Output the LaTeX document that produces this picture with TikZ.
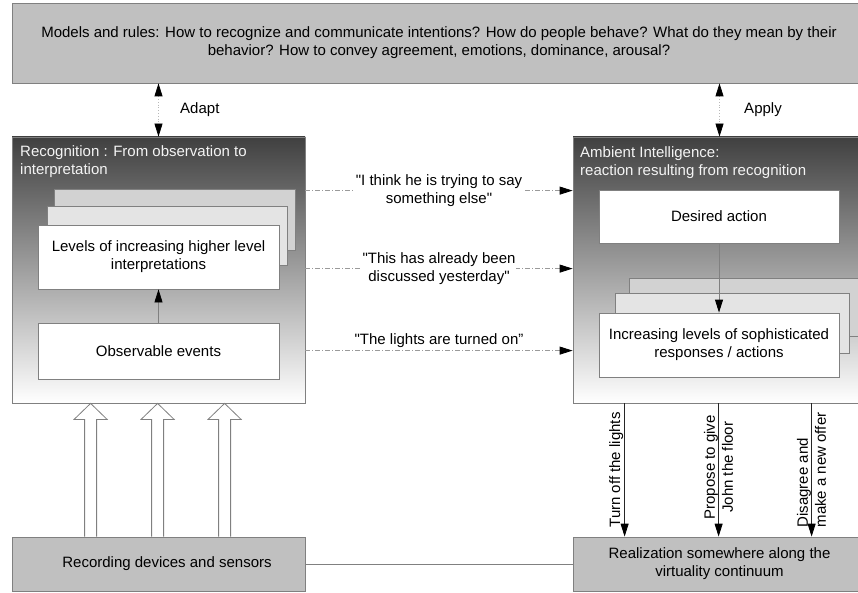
\documentclass[tikz,border=0pt]{standalone}
\usepackage{fontspec}
\setmainfont{Liberation Sans}[Ligatures=TeXOff]
\usetikzlibrary{arrows.meta,calc}

\definecolor{boxgray}{HTML}{C0C0C0}
\definecolor{edgegray}{HTML}{808080}
\definecolor{darktop}{HTML}{404040}
\definecolor{layerback}{HTML}{D2D2D2}
\definecolor{layermid}{HTML}{E4E4E4}
\definecolor{linkgray}{HTML}{9A9A9A}
\definecolor{titlewhite}{HTML}{F4F4F4}

\begin{document}
\begin{tikzpicture}[x=1pt,y=-1pt,
  font=\fontsize{15}{18}\selectfont,
  panel/.style={draw=edgegray, fill=boxgray, inner sep=0pt, align=center, line width=0.8pt},
  bigpanel/.style={draw=edgegray, inner sep=0pt, line width=0.8pt,
    top color=darktop, bottom color=white},
  layer/.style={draw=edgegray, inner sep=0pt, align=center, line width=0.8pt},
  paneltitle/.style={inner sep=0pt, align=left, text=titlewhite, anchor=west},
  tip/.style={-{Triangle[length=13pt,width=8pt,color=black]}},
  twotip/.style={{Triangle[length=13pt,width=8pt,color=black]}-{Triangle[length=13pt,width=8pt,color=black]}},
  link/.style={tip, draw=linkgray, line width=0.8pt,
    dash pattern=on 5pt off 2pt on 1pt off 2pt},
  ruleslink/.style={twotip, draw=linkgray!70, line width=0.8pt, dotted},
  inner/.style={tip, draw=edgegray, line width=0.8pt},
  act/.style={tip, draw=black!85, line width=0.8pt},
  hollow/.style={draw=edgegray, fill=white, line width=0.8pt, line join=miter},
]
\useasboundingbox (0,0) rectangle (858,593);

% --- models and rules ---
\node[panel, minimum width=854pt, minimum height=80pt] (models) at (439,43)
  {Models and rules: How to recognize and communicate intentions? How do people behave? What do they mean by their\\
   behavior? How to convey agreement, emotions, dominance, arousal?};

% --- recognition panel ---
\node[bigpanel, minimum width=293pt, minimum height=266pt] (recog) at (158.5,270) {};
\node[paneltitle] (recogtitle) at (20,161.5) {Recognition : From observation to\\interpretation};
\node[layer, fill=layerback, minimum width=241pt, minimum height=61pt] (levback) at (174.5,219.5) {};
\node[layer, fill=layermid, minimum width=240pt, minimum height=59pt] (levmid) at (167,235.5) {};
\node[layer, fill=white, minimum width=241pt, minimum height=64pt] (levels) at (158.5,257)
  {Levels of increasing higher level\\interpretations};
\node[layer, fill=white, minimum width=241pt, minimum height=56pt] (obs) at (158.5,351)
  {Observable events};
\draw[inner] (obs.north) -- (levels.south);

% --- ambient intelligence panel ---
\node[bigpanel, minimum width=293pt, minimum height=266pt] (ai) at (719.5,270) {};
\node[paneltitle] (aititle) at (580,162.5) {Ambient Intelligence:\\reaction resulting from recognition};
\node[layer, fill=white, minimum width=240pt, minimum height=53pt] (desired) at (719,216.5)
  {Desired action};
\node[layer, fill=layerback, minimum width=229pt, minimum height=58pt] (respback) at (743.5,307) {};
\node[layer, fill=layermid, minimum width=234pt, minimum height=60pt] (respmid) at (732,323) {};
\node[layer, fill=white, minimum width=240pt, minimum height=64pt] (resp) at (719,345)
  {Increasing levels of sophisticated\\responses / actions};
\draw[inner] (desired.south) -- (resp.north);

% --- bottom panels ---
\node[panel, minimum width=293pt, minimum height=54pt] (rec) at (158.5,564) {};
\node[inner sep=0pt] (rectext) at ($(rec.center)+(8.5,0)$) {Recording devices and sensors};
\node[panel, minimum width=293pt, minimum height=54pt] (real) at (719.5,564)
  {Realization somewhere along the\\virtuality continuum};
\draw[edgegray, line width=0.8pt] (rec.east) -- (real.west);

% --- adapt / apply ---
\draw[ruleslink] (models.south -| recog.north) -- node[anchor=west, xshift=18pt] {Adapt} (recog.north);
\draw[ruleslink] (models.south -| ai.north) -- node[anchor=west, xshift=21pt] {Apply} (ai.north);

% --- interpretations passed across ---
\coordinate (la) at ([yshift=-54pt]recog.north east);
\coordinate (lb) at ([yshift=-132pt]recog.north east);
\coordinate (lc) at ([yshift=-214pt]recog.north east);
\draw[link] (la) -- node[fill=white, inner sep=1pt, align=center, text=black]
  {"I think he is trying to say\\something else"} (la -| ai.west);
\draw[link] (lb) -- node[fill=white, inner sep=1pt, align=center, text=black]
  {"This has already been\\discussed yesterday"} (lb -| ai.west);
\draw[link] (lc) -- node[above, inner sep=3pt, text=black]
  {"The lights are turned on”} (lc -| ai.west);

% --- sensor inputs (hollow block arrows) ---
\foreach \dx/\n in {79/a,146/b,213/c}{
  \coordinate (src\n) at ([xshift=\dx pt]rec.north west);
  \coordinate (dst\n) at ([xshift=\dx pt]recog.south west);
  \draw[hollow] ($(src\n)+(-6,0)$) -- ($(dst\n)+(-6,16)$) -- ($(dst\n)+(-16.5,16)$)
    -- (dst\n) -- ($(dst\n)+(16.5,16)$) -- ($(dst\n)+(6,16)$) -- ($(src\n)+(6,0)$);
}

% --- realized actions ---
\foreach \dx/\n in {52/a,146/b,239/c}{
  \coordinate (out\n) at ([xshift=\dx pt]ai.south west);
  \coordinate (in\n) at ([xshift=\dx pt]real.north west);
}
\draw[act] (outa) -- node[rotate=90, anchor=south, inner sep=1pt] {Turn off the lights} (ina);
\draw[act] (outb) -- node[rotate=90, pos=0.48, align=center, inner sep=0pt] {Propose to give\\John the floor} (inb);
\draw[act] (outc) -- node[rotate=90, align=left, inner sep=0pt] {Disagree and\\make a new offer} (inc);
\end{tikzpicture}
\end{document}
